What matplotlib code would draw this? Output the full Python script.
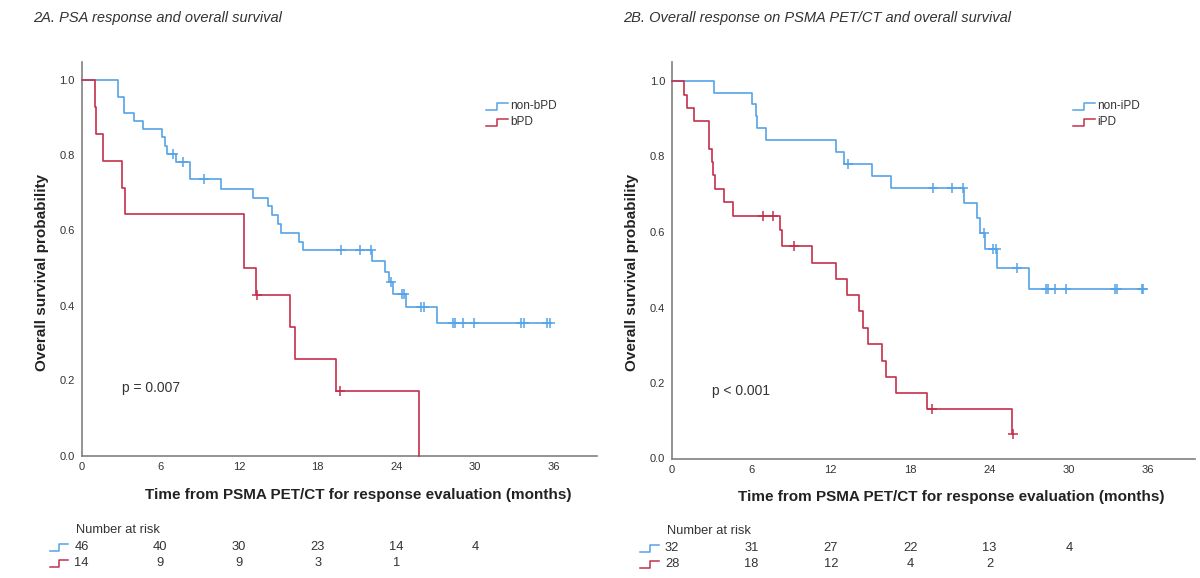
import numpy as np
import matplotlib
matplotlib.use("Agg")
import matplotlib.pyplot as plt
from matplotlib.transforms import blended_transform_factory
from matplotlib.lines import Line2D

plt.rcParams['font.family'] = ['Liberation Sans', 'DejaVu Sans']

# ---------------- data ----------------
# Panel A: PSA response
a_blue_times = [2.8, 3.27, 4.0, 4.72, 6.12, 6.37, 6.55, 7.19, 8.28, 10.65, 13.1, 14.25, 14.5,
                14.95, 15.2, 16.6, 16.9, 22.15, 23.1, 23.4, 23.75, 24.7, 27.1]
a_blue_surv = [0.957, 0.913, 0.891, 0.870, 0.848, 0.826, 0.804, 0.783, 0.737, 0.712, 0.688, 0.665,
               0.641, 0.617, 0.594, 0.570, 0.548, 0.519, 0.490, 0.463, 0.431, 0.396, 0.353]
a_blue_end = 35.7
a_blue_cens = [7.0, 7.7, 9.3, 19.8, 21.2, 22.1, 23.6, 24.4, 24.6, 25.9, 26.1, 28.3, 28.5,
               29.1, 29.9, 33.5, 33.7, 35.5, 35.7]

a_red_times = [1.0, 1.1, 1.66, 3.07, 3.3, 12.4, 13.3, 15.9, 16.3, 19.4, 25.7]
a_red_surv = [0.929, 0.857, 0.786, 0.714, 0.643, 0.500, 0.429, 0.343, 0.257, 0.171, 0.0]
a_red_end = 25.7
a_red_cens = [13.35, 19.7]

a_risk_blue = [46, 40, 30, 23, 14, 4]
a_risk_red = [14, 9, 9, 3, 1]
a_labels = ["non-bPD", "bPD"]
a_title = "2A. PSA response and overall survival"
a_p = "p = 0.007"

# Panel B: PSMA PET/CT response
b_blue_times = [3.2, 6.07, 6.33, 6.45, 7.1, 12.37, 13.0, 15.15, 16.55, 22.07, 23.05, 23.3,
                23.66, 24.6, 27.0]
b_blue_surv = [0.969, 0.938, 0.906, 0.875, 0.844, 0.813, 0.781, 0.749, 0.716, 0.677, 0.636,
               0.597, 0.554, 0.504, 0.448]
b_blue_end = 35.6
b_blue_cens = [13.3, 19.7, 21.15, 22.0, 23.6, 24.3, 24.5, 26.1, 28.25, 28.4, 28.95, 29.8,
               33.5, 33.6, 35.5, 35.6]

b_red_times = [0.93, 1.1, 1.66, 2.8, 3.0, 3.1, 3.25, 3.95, 4.63, 8.15, 8.3, 10.56, 12.4, 13.25,
               14.16, 14.4, 14.85, 15.85, 16.2, 16.9, 19.3, 25.7]
b_red_surv = [0.964, 0.929, 0.893, 0.821, 0.786, 0.750, 0.714, 0.679, 0.643, 0.605, 0.564,
              0.519, 0.475, 0.433, 0.391, 0.346, 0.303, 0.259, 0.217, 0.173, 0.130, 0.065]
b_red_end = 25.8
b_red_cens = [6.9, 7.6, 9.2, 19.65, 25.8]

b_risk_blue = [32, 31, 27, 22, 13, 4]
b_risk_red = [28, 18, 12, 4, 2]
b_labels = ["non-iPD", "iPD"]
b_title = "2B. Overall response on PSMA PET/CT and overall survival"
b_p = "p < 0.001"

x_ticks = [0, 6, 12, 18, 24, 30, 36]
y_ticks = [0.0, 0.2, 0.4, 0.6, 0.8, 1.0]
x_label = "Time from PSMA PET/CT for response evaluation (months)"
y_label = "Overall survival probability"

# ---------------- style ----------------
BLUE = '#55a3e8'
RED = '#c4304c'
AX = '#808080'
TXT = '#333333'
W, H = 1200, 578

fig = plt.figure(figsize=(W / 100, H / 100), dpi=100)


def fx(px):
    return px / W


def fy(py):
    return 1 - py / H


def step_curve(ax, times, surv, end, cens, color):
    xs = [0] + list(times) + [end]
    ys = [1.0] + list(surv) + [surv[-1]]
    ax.step(xs, ys, where='post', color=color, lw=1.2, clip_on=False, zorder=3)
    t = np.array(times)
    s = np.array(surv)
    idx = np.searchsorted(t, np.array(cens), side='right') - 1
    cy = np.where(idx >= 0, s[np.clip(idx, 0, None)], 1.0)
    ax.plot(cens, cy, ls='none', marker='+', ms=7, mew=1.1, color=color, clip_on=False, zorder=4)


def icon(x0, x1, yc, h, color, transform):
    xm = (x0 + x1) / 2
    line = Line2D([x0, xm, xm, x1], [yc - h / 2, yc - h / 2, yc + h / 2, yc + h / 2],
                  color=color, lw=1.1, transform=transform, clip_on=False)
    fig.add_artist(line)


def panel(rect_px, xmax, ymax, title, title_px, blue, red, labels, ptxt, p_px,
          risk_blue, risk_red, legend_px, ylab_x, xlab_y, risk_y):
    left, top, right, bottom = rect_px
    ax = fig.add_axes([fx(left), fy(bottom), fx(right) - fx(left), fy(top) - fy(bottom)])
    ax.set_xlim(0, xmax)
    ax.set_ylim(0, ymax)
    for sp in ['top', 'right']:
        ax.spines[sp].set_visible(False)
    for sp in ['left', 'bottom']:
        ax.spines[sp].set_color(AX)
        ax.spines[sp].set_linewidth(1.2)
    ax.set_xticks(x_ticks)
    ax.set_yticks(y_ticks)
    ax.set_yticklabels([f"{v:.1f}" for v in y_ticks])
    ax.tick_params(length=0, labelsize=8, labelcolor=TXT, pad=5)

    step_curve(ax, *blue, BLUE)
    step_curve(ax, *red, RED)

    fig.text(fx(title_px[0]), fy(title_px[1]), title, style='italic', fontsize=10.5,
             color=TXT, ha='left', va='center')
    fig.text(fx(ylab_x), fy(272), y_label, rotation=90, fontsize=11, fontweight='bold',
             color='#222222', ha='center', va='center')
    tr = blended_transform_factory(ax.transData, fig.transFigure)
    ax.text(21.1, fy(xlab_y), x_label, transform=tr, fontsize=11, fontweight='bold',
            color='#222222', ha='center', va='center', clip_on=False)

    ax.text(p_px[0], p_px[1], ptxt, transform=ax.transData, fontsize=10, color=TXT,
            ha='left', va='center')

    # legend
    lx, ly = legend_px
    for i, (lab, col) in enumerate(zip(labels, [BLUE, RED])):
        yy = ly + i * 16
        icon(fx(lx), fx(lx + 22), fy(yy), 7 / H, col, fig.transFigure)
        fig.text(fx(lx + 24), fy(yy), lab, fontsize=8.5, color=TXT, ha='left', va='center')

    # number at risk
    ax.text(-0.4, fy(risk_y[0]), "Number at risk", transform=tr, fontsize=9.3, color=TXT,
            ha='left', va='center', clip_on=False)
    for row, (vals, col) in enumerate([(risk_blue, BLUE), (risk_red, RED)]):
        yy = risk_y[1 + row]
        xa = ax.transData.transform((-2.4, 0))[0] / W
        xb = ax.transData.transform((-1.0, 0))[0] / W
        icon(xa, xb, fy(yy), 7 / H, col, fig.transFigure)
        for t, v in zip(x_ticks, vals):
            ax.text(t, fy(yy), str(v), transform=tr, fontsize=9.3, color=TXT,
                    ha='center', va='center', clip_on=False)
    return ax


panel((81.5, 62, 597, 455.5), (597 - 81.5) / 13.12, 1 + (80.5 - 62) / 375,
      a_title, (33, 18),
      (a_blue_times, a_blue_surv, a_blue_end, a_blue_cens),
      (a_red_times, a_red_surv, a_red_end, a_red_cens),
      a_labels, a_p, (3.1, 0.18), a_risk_blue, a_risk_red, (486, 106), 42, 495,
      (530, 547, 563))

panel((672, 62, 1195, 458.5), (1195 - 672) / 13.23, 1 + (81 - 62) / 377.5,
      b_title, (623, 18),
      (b_blue_times, b_blue_surv, b_blue_end, b_blue_cens),
      (b_red_times, b_red_surv, b_red_end, b_red_cens),
      b_labels, b_p, (3.0, 0.18), b_risk_blue, b_risk_red, (1073, 106), 632, 497,
      (531, 548, 564))

fig.savefig("out.png", dpi=100)
